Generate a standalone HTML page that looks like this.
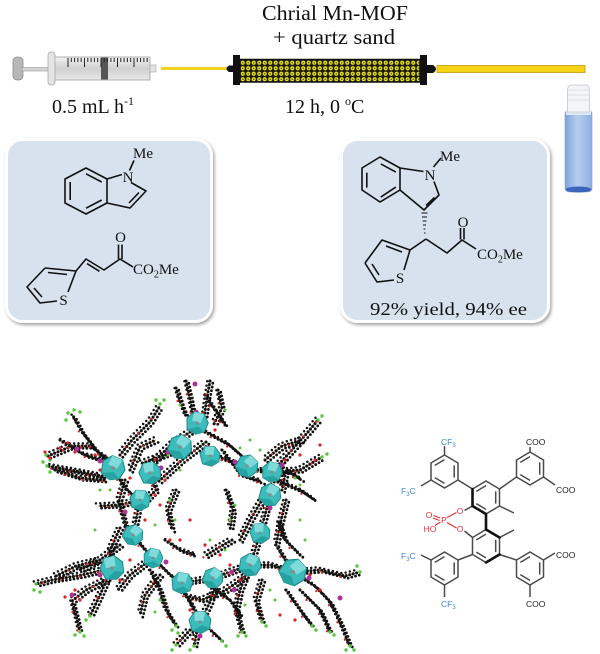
<!DOCTYPE html>
<html><head><meta charset="utf-8">
<style>html,body{margin:0;padding:0;background:#fff}svg{display:block}</style>
</head><body>
<svg width="600" height="654" viewBox="0 0 600 654" xmlns="http://www.w3.org/2000/svg" xmlns:xlink="http://www.w3.org/1999/xlink">
<defs>
  <linearGradient id="barrel" x1="0" y1="0" x2="0" y2="1">
    <stop offset="0" stop-color="#f2f2f2"/><stop offset="0.5" stop-color="#cfcfcf"/><stop offset="1" stop-color="#e8e8e8"/>
  </linearGradient>
  <linearGradient id="vialg" x1="0" y1="0" x2="1" y2="0">
    <stop offset="0" stop-color="#7ea3dc"/><stop offset="0.45" stop-color="#b7cdee"/><stop offset="1" stop-color="#8caee2"/>
  </linearGradient>
  <pattern id="sand" width="5.5" height="5.5" patternUnits="userSpaceOnUse" x="240" y="60">
    <rect width="5.5" height="5.5" fill="#1c1c08"/>
    <circle cx="2.75" cy="2.75" r="2.1" fill="#e4dc1e"/>
    <circle cx="2.75" cy="2.75" r="0.8" fill="#5a5a12"/>
  </pattern>
  <filter id="sh" x="-10%" y="-10%" width="125%" height="125%">
    <feDropShadow dx="1.5" dy="2" stdDeviation="1.5" flood-color="#666" flood-opacity="0.6"/>
  </filter>
  <g id="ring">
    <path d="M0,-16.5 L13.5,-8.5 L13.5,8.5 L0,16.5 L-13.5,8.5 L-13.5,-8.5 Z" fill="none"/>
    <path d="M-9.7,-6.1 L0,-11.9 M9.7,-6.1 L9.7,6.1 M0,11.9 L-9.7,6.1" fill="none"/>
  </g>
  <g id="pv">
    <polygon points="-8,-4 -2,-9 6,-7 9,0 6,7 -1,9 -8,5" fill="#3dbcbc" stroke="#1d8a8a" stroke-width="0.8"/>
    <polygon points="-2,-9 6,-7 3,0 -4,-2" fill="#80dada"/>
    <polygon points="-8,5 -1,9 6,7 1,3" fill="#27a2a2"/>
    <circle r="1.3" fill="#8a8a8a"/>
  </g>
  <g id="st">
    <path d="M186,381 L190,398 L194,418"/>
    <path d="M210,381 L207,398 L204,418"/>
    <path d="M176,388 L181,404 L186,416"/>
    <path d="M218,390 L222,408 L214,424"/>
    <path d="M196,428 L172,444 L150,465"/>
    <path d="M186,446 L162,456 L140,464"/>
    <path d="M206,442 L182,460 L158,482"/>
    <path d="M212,455 L234,462 L248,470"/>
    <path d="M202,430 L228,444 L244,458"/>
    <path d="M222,450 L240,474 L262,482"/>
    <path d="M113,468 L96,450 L82,432 L72,414"/>
    <path d="M110,460 L90,446 L72,446 L48,456"/>
    <path d="M102,476 L76,471 L48,466"/>
    <path d="M120,455 L132,440 L150,422 L160,406"/>
    <path d="M130,470 L140,447 L156,440"/>
    <path d="M140,500 L120,505 L98,506"/>
    <path d="M113,468 L125,488 L138,500"/>
    <path d="M140,500 L136,520 L133,535"/>
    <path d="M125,480 L119,500 L124,520 L130,540"/>
    <path d="M150,473 L156,490 L146,500"/>
    <path d="M133,535 L145,550 L153,558"/>
    <path d="M120,528 L110,550 L112,568"/>
    <path d="M112,568 L82,575 L52,580 L36,584"/>
    <path d="M106,580 L86,590 L72,601 L76,616 L80,632"/>
    <path d="M100,560 L76,566 L56,576"/>
    <path d="M112,568 L100,595 L90,616"/>
    <path d="M153,558 L170,575 L182,583"/>
    <path d="M150,570 L160,590 L166,610 L176,626"/>
    <path d="M182,583 L213,578 L250,565"/>
    <path d="M186,596 L202,600 L226,590 L246,576"/>
    <path d="M200,622 L190,602 L182,590"/>
    <path d="M200,622 L210,602 L215,586"/>
    <path d="M198,626 L194,646"/>
    <path d="M206,626 L222,641"/>
    <path d="M190,630 L176,645"/>
    <path d="M247,468 L272,472 L300,470 L322,457"/>
    <path d="M272,472 L290,452 L308,432 L318,420"/>
    <path d="M265,460 L282,446 L302,440"/>
    <path d="M270,495 L272,474"/>
    <path d="M282,490 L286,470 L302,480"/>
    <path d="M270,495 L265,515 L260,533"/>
    <path d="M286,500 L281,520 L276,545"/>
    <path d="M260,533 L255,550 L250,565"/>
    <path d="M276,545 L293,572"/>
    <path d="M293,572 L315,586 L330,602 L340,622 L350,646"/>
    <path d="M300,590 L320,610 L330,632"/>
    <path d="M293,572 L320,570 L345,576 L360,572"/>
    <path d="M286,590 L300,610 L312,626"/>
    <path d="M250,565 L240,590 L236,610 L242,632"/>
    <path d="M262,580 L256,600 L262,622"/>
    <path d="M176,490 L168,510 L172,530"/>
    <path d="M226,490 L233,510 L230,530"/>
    <path d="M250,565 L272,565 L293,572"/>
    <path d="M232,540 L218,548 L205,556"/>
    <path d="M165,540 L180,550 L195,555"/>
    <path d="M60,440 L85,455 L110,462"/>
    <path d="M55,470 L80,478 L105,480"/>
    <path d="M120,545 L100,560 L80,570"/>
    <path d="M150,560 L130,575 L118,590"/>
    <path d="M240,540 L250,520 L262,500"/>
    <path d="M275,480 L300,490 L315,500"/>
    <path d="M300,555 L285,540 L278,520"/>
    <path d="M215,590 L230,600 L240,615"/>
    <path d="M160,575 L145,595 L140,615"/>
    <path d="M205,395 L215,410 L225,425"/>
  </g>
</defs>

<rect width="600" height="654" fill="#fff"/>

<!-- Top texts -->
<g font-family="'Liberation Serif', serif" fill="#111">
  <text x="262" y="20" font-size="21" textLength="146" lengthAdjust="spacingAndGlyphs">Chrial Mn-MOF</text>
  <text x="273" y="44" font-size="21" textLength="122" lengthAdjust="spacingAndGlyphs">+ quartz sand</text>
  <text x="52" y="113" font-size="20">0.5 mL h<tspan font-size="12" dy="-8">-1</tspan></text>
  <text x="285" y="113" font-size="20">12 h, 0 <tspan font-size="12" dy="-8">o</tspan><tspan dy="8">C</tspan></text>
</g>

<!-- Syringe -->
<g>
  <rect x="13" y="57" width="10" height="23" rx="4" fill="#b8b8b8" stroke="#8a8a8a" stroke-width="0.8"/>
  <rect x="22" y="67.5" width="84" height="3.5" fill="#d4d4d4" stroke="#9a9a9a" stroke-width="0.6"/>
  <rect x="54" y="57" width="96" height="23" fill="url(#barrel)" stroke="#a0a0a0" stroke-width="0.8"/>
  <rect x="48" y="52" width="7" height="33" rx="3" fill="#e4e4e4" stroke="#a8a8a8" stroke-width="0.8"/>
  <rect x="101" y="57.5" width="7" height="22" fill="#555"/>
  <rect x="150" y="65" width="6" height="7" fill="#e2e2e2" stroke="#a8a8a8" stroke-width="0.6"/>
  <path d="M68,58v9 M71.3,58v4 M74.6,58v4 M77.9,58v4 M81.2,58v4 M84.5,58v9 M87.8,58v4 M91.1,58v4 M94.4,58v4 M97.7,58v4 M101,58v9 M104.3,58v4 M107.6,58v4 M110.9,58v4 M114.2,58v4 M117.5,58v9 M120.8,58v4 M124.1,58v4 M127.4,58v4 M130.7,58v4 M134,58v9 M137.3,58v4 M140.6,58v4 M143.9,58v4 M147.2,58v4" stroke="#222" stroke-width="1"/>
</g>

<!-- Tubes and column -->
<line x1="161" y1="68.5" x2="227" y2="68.5" stroke="#f2d21a" stroke-width="3"/>
<path d="M234,65.5 L229,65.5 Q224,68.8 229,72 L234,72 Z" fill="#111"/>
<rect x="233" y="55" width="7" height="30" fill="#111"/>
<rect x="240" y="59.5" width="180" height="22.5" fill="url(#sand)" stroke="#111" stroke-width="1.5"/>
<rect x="420" y="55" width="7" height="30" fill="#111"/>
<path d="M427,65 L433,65 Q439,69 433,73 L427,73 Z" fill="#111"/>
<rect x="437" y="65.5" width="148" height="7" fill="#f5d316" stroke="#c49c0c" stroke-width="0.8"/>

<!-- Vial -->
<g>
  <rect x="565" y="110" width="27" height="82" rx="4" fill="url(#vialg)" stroke="#7e9fd4" stroke-width="0.6"/>
  <rect x="566" y="110" width="25" height="5" fill="#dfe8f5"/>
  <ellipse cx="578.5" cy="189.5" rx="13" ry="3" fill="#3d66bb"/>
  <path d="M567.5,112 L567.5,92 Q567.5,85 571,85 L586,85 Q589.5,85 589.5,92 L589.5,112 Z" fill="#f3f5f8" stroke="#c2c7cd" stroke-width="0.8"/>
  <path d="M568,90 H589 M568,95 H589 M568,100 H589" stroke="#d4d8de" stroke-width="0.8"/>
</g>

<!-- Boxes -->
<rect x="6.5" y="139.5" width="205" height="182" rx="16" fill="#d7e2ee" stroke="#fff" stroke-width="3" filter="url(#sh)"/>
<rect x="341.5" y="139.5" width="207" height="182" rx="16" fill="#d7e2ee" stroke="#fff" stroke-width="3" filter="url(#sh)"/>

<!-- Left box molecules -->
<g stroke="#111" stroke-width="1.6" fill="none" stroke-linejoin="round">
  <path d="M86,168 L107,179 L107,203 L86,214 L65,203 L65,179 Z"/>
  <path d="M70.2,182 L70.2,200 M86,173.8 L101.7,182 M101.7,200 L86,208.2"/>
  <path d="M107,179 L122,174.5"/>
  <path d="M131,182.5 L146,191 L130,208 L107,203"/>
  <path d="M139,192.5 L129,203"/>
  <path d="M129.5,170.5 L134,160.5"/>
  <path d="M45,268 L76,271 L68,292 M57,301 L40,303 L27,287 L45,268"/>
  <path d="M34,288 L42,297 M48,272.5 L67,274.5"/>
  <path d="M76,271 L86,259 L104,270 L120,259 L133,267"/>
  <path d="M87,263.6 L99.5,271.3"/>
  <path d="M118.5,259 L118.5,244.5 M122,259 L122,244.5"/>
</g>
<g font-family="'Liberation Serif', serif" fill="#111" font-size="15">
  <text x="128" y="182" text-anchor="middle">N</text>
  <text x="133" y="158">Me</text>
  <text x="63.5" y="305" text-anchor="middle">S</text>
  <text x="120.5" y="242" text-anchor="middle">O</text>
  <text x="133" y="274">CO<tspan font-size="10" dy="3.5">2</tspan><tspan dy="-3.5">Me</tspan></text>
</g>

<!-- Right box molecule -->
<g stroke="#111" stroke-width="1.6" fill="none" stroke-linejoin="round">
  <path d="M380,157 L400,168 L400,190 L380,202 L362,190 L362,168 Z"/>
  <path d="M366.8,172.6 L366.8,187.6 M380.8,163.9 L395.8,172.1 M395.8,187.1 L380.8,197.1"/>
  <path d="M400,168 L423.5,171.5"/>
  <path d="M434,181.5 L439,195 L424,210 L400,190"/>
  <path d="M434.5,197.5 L426,205.5"/>
  <path d="M433.5,167 L441,158"/>
  <path d="M365,263 L382,240 L410,250 L404,270 M394,280 L377,282 L365,263"/>
  <path d="M386,246 L402,252 M372,264 L379,275"/>
  <path d="M426,239 L410,250"/>
  <path d="M426,239 L447,253 L462,240 L476,249"/>
  <path d="M460.5,239.5 L460.5,228 M464,239.5 L464,228"/>
</g>
<g stroke="#111" stroke-width="1.1">
  <path d="M421.5,213 H427.5 M422,217 H427 M422.5,221 H426.5 M423,225 H426 M423.5,229 H425.5 M424,233 H425.5"/>
</g>
<g font-family="'Liberation Serif', serif" fill="#111" font-size="15">
  <text x="430" y="180" text-anchor="middle">N</text>
  <text x="440" y="161">Me</text>
  <text x="400" y="283" text-anchor="middle">S</text>
  <text x="463" y="227" text-anchor="middle">O</text>
  <text x="477" y="259">CO<tspan font-size="10" dy="3.5">2</tspan><tspan dy="-3.5">Me</tspan></text>
  <text x="370" y="315" font-size="18" textLength="157" lengthAdjust="spacingAndGlyphs">92% yield,  94% ee</text>
</g>

<!-- Ligand -->
<g stroke="#4a4a4a" stroke-width="1.5" fill="none">
  <use href="#ring" xlink:href="#ring" transform="translate(444.5,471.5)"/>
  <use href="#ring" xlink:href="#ring" transform="translate(486,497.5)"/>
  <use href="#ring" xlink:href="#ring" transform="translate(486,546)"/>
  <use href="#ring" xlink:href="#ring" transform="translate(530,468.5)"/>
  <use href="#ring" xlink:href="#ring" transform="translate(444.5,568.5)"/>
  <use href="#ring" xlink:href="#ring" transform="translate(530,568.5)"/>
  <path d="M444.5,455 V446 M431,480 L421,486 M458,480 L472.5,489 M499.5,489 L516.5,477 M530,452 V447 M543.5,477 L555,485 M499.5,506 L514,513 M472.5,506 L464.5,510.5 M499.5,537.5 L514,530 M472.5,537.5 L464.5,531 M472.5,554.5 L458,560 M499.5,554.5 L516.5,560 M431,560 L421,555 M444.5,585 V597 M543.5,560 L555,553 M530,585 V597"/>
</g>
<g stroke="#111" stroke-width="2.6" fill="none" stroke-linecap="round">
  <path d="M472.5,489 L472.5,506 L486,514 L486,529.5 L499.5,537.5"/>
  <path d="M499.5,554.5 L486,562.5"/>
</g>
<g stroke="#e03038" stroke-width="1.1" fill="none">
  <path d="M456.5,512.5 L447,517.5 M456.5,528 L447,522.5 M440.5,522 L435,525.5 M433.5,515.5 L440,518 M433,518 L439.5,520.5"/>
</g>
<g font-family="'Liberation Sans', sans-serif" font-size="8.5">
  <g fill="#3a8ad6">
    <text x="441" y="445">CF<tspan font-size="6" dy="2">3</tspan></text>
    <text x="401" y="494">F<tspan font-size="6" dy="2">3</tspan><tspan dy="-2">C</tspan></text>
    <text x="401" y="559">F<tspan font-size="6" dy="2">3</tspan><tspan dy="-2">C</tspan></text>
    <text x="441" y="607">CF<tspan font-size="6" dy="2">3</tspan></text>
  </g>
  <g fill="#222">
    <text x="526" y="445">COO</text>
    <text x="556" y="493">COO</text>
    <text x="556" y="558">COO</text>
    <text x="526" y="607">COO</text>
  </g>
  <g fill="#e03038">
    <text x="460" y="514" text-anchor="middle">O</text>
    <text x="460" y="532" text-anchor="middle">O</text>
    <text x="444" y="523" text-anchor="middle">P</text>
    <text x="429" y="518" text-anchor="middle">O</text>
    <text x="430" y="532" text-anchor="middle">HO</text>
  </g>
</g>

<!-- MOF structure -->
<use href="#st" xlink:href="#st" fill="none" stroke="#e6a860" stroke-width="1"/>
<use href="#st" xlink:href="#st" fill="none" stroke="#111" stroke-width="3.1" stroke-linecap="round" stroke-dasharray="0 3.6"/>
<use href="#st" xlink:href="#st" transform="translate(2.8,2.2)" fill="none" stroke="#111" stroke-width="2.8" stroke-linecap="round" stroke-dasharray="0 3.8"/>
<use href="#st" xlink:href="#st" transform="translate(-2.2,-2.6)" fill="none" stroke="#151515" stroke-width="2.5" stroke-linecap="round" stroke-dasharray="0 4.4" stroke-dashoffset="1.5"/>
<use href="#st" xlink:href="#st" transform="translate(-2,1.5)" fill="none" stroke="#d42a2a" stroke-width="2.3" stroke-linecap="round" stroke-dasharray="0 19" stroke-dashoffset="7"/>

<g fill="#58c83a">
  <circle cx="68" cy="413" r="1.7"/><circle cx="74" cy="410" r="1.7"/><circle cx="80" cy="412" r="1.7"/><circle cx="66" cy="420" r="1.7"/>
  <circle cx="46" cy="455" r="1.7"/><circle cx="50" cy="460" r="1.7"/><circle cx="43" cy="462" r="1.7"/>
  <circle cx="47" cy="466" r="1.7"/><circle cx="50" cy="472" r="1.7"/>
  <circle cx="160" cy="404" r="1.7"/><circle cx="156" cy="400" r="1.7"/><circle cx="164" cy="400" r="1.7"/>
  <circle cx="318" cy="420" r="1.7"/><circle cx="322" cy="416" r="1.7"/>
  <circle cx="322" cy="457" r="1.7"/><circle cx="327" cy="454" r="1.7"/>
  <circle cx="36" cy="584" r="1.7"/><circle cx="34" cy="590" r="1.7"/><circle cx="40" cy="592" r="1.7"/>
  <circle cx="80" cy="632" r="1.7"/><circle cx="75" cy="635" r="1.7"/><circle cx="84" cy="636" r="1.7"/>
  <circle cx="90" cy="616" r="1.7"/><circle cx="86" cy="620" r="1.7"/>
  <circle cx="176" cy="626" r="1.7"/><circle cx="172" cy="630" r="1.7"/><circle cx="178" cy="633" r="1.7"/>
  <circle cx="194" cy="646" r="1.7"/><circle cx="190" cy="650" r="1.7"/>
  <circle cx="222" cy="641" r="1.7"/><circle cx="226" cy="646" r="1.7"/>
  <circle cx="176" cy="645" r="1.7"/><circle cx="172" cy="650" r="1.7"/>
  <circle cx="242" cy="632" r="1.7"/><circle cx="246" cy="636" r="1.7"/><circle cx="238" cy="636" r="1.7"/>
  <circle cx="262" cy="622" r="1.7"/><circle cx="266" cy="626" r="1.7"/>
  <circle cx="312" cy="626" r="1.7"/><circle cx="316" cy="630" r="1.7"/>
  <circle cx="330" cy="632" r="1.7"/><circle cx="334" cy="635" r="1.7"/>
  <circle cx="350" cy="646" r="1.7"/><circle cx="354" cy="650" r="1.7"/><circle cx="346" cy="650" r="1.7"/>
  <circle cx="360" cy="572" r="1.7"/><circle cx="357" cy="566" r="1.7"/>
  <circle cx="168" cy="455" r="1.5"/><circle cx="180" cy="470" r="1.5"/><circle cx="240" cy="448" r="1.5"/><circle cx="250" cy="440" r="1.5"/>
  <circle cx="260" cy="450" r="1.5"/><circle cx="295" cy="478" r="1.5"/><circle cx="300" cy="485" r="1.5"/><circle cx="230" cy="520" r="1.5"/>
  <circle cx="235" cy="505" r="1.5"/><circle cx="175" cy="520" r="1.5"/><circle cx="170" cy="500" r="1.5"/><circle cx="155" cy="525" r="1.5"/>
  <circle cx="210" cy="540" r="1.5"/><circle cx="225" cy="550" r="1.5"/><circle cx="270" cy="590" r="1.5"/><circle cx="275" cy="600" r="1.5"/>
  <circle cx="245" cy="605" r="1.5"/><circle cx="160" cy="600" r="1.5"/><circle cx="155" cy="612" r="1.5"/><circle cx="110" cy="490" r="1.5"/>
  <circle cx="100" cy="490" r="1.5"/><circle cx="95" cy="530" r="1.5"/><circle cx="300" cy="520" r="1.5"/><circle cx="305" cy="540" r="1.5"/>
  <circle cx="180" cy="405" r="1.5"/><circle cx="225" cy="410" r="1.5"/>
</g>
<g fill="#d8242a">
  <circle cx="45" cy="452" r="1.6"/><circle cx="50" cy="458" r="1.6"/><circle cx="68" cy="443" r="1.6"/><circle cx="75" cy="452" r="1.6"/>
  <circle cx="60" cy="448" r="1.6"/><circle cx="95" cy="455" r="1.6"/><circle cx="100" cy="470" r="1.6"/><circle cx="120" cy="465" r="1.6"/>
  <circle cx="130" cy="478" r="1.6"/><circle cx="165" cy="480" r="1.6"/><circle cx="170" cy="540" r="1.6"/><circle cx="180" cy="540" r="1.6"/>
  <circle cx="205" cy="545" r="1.6"/><circle cx="220" cy="555" r="1.6"/><circle cx="230" cy="565" r="1.6"/><circle cx="240" cy="580" r="1.6"/>
  <circle cx="285" cy="580" r="1.6"/><circle cx="300" cy="565" r="1.6"/><circle cx="310" cy="575" r="1.6"/><circle cx="320" cy="590" r="1.6"/>
  <circle cx="285" cy="460" r="1.6"/><circle cx="300" cy="455" r="1.6"/><circle cx="315" cy="460" r="1.6"/><circle cx="320" cy="445" r="1.6"/>
  <circle cx="215" cy="430" r="1.6"/><circle cx="208" cy="447" r="1.6"/><circle cx="160" cy="505" r="1.6"/><circle cx="190" cy="520" r="1.6"/>
  <circle cx="75" cy="590" r="1.6"/><circle cx="65" cy="597" r="1.6"/><circle cx="80" cy="600" r="1.6"/><circle cx="120" cy="580" r="1.6"/>
  <circle cx="130" cy="560" r="1.6"/><circle cx="180" cy="590" r="1.6"/><circle cx="190" cy="610" r="1.6"/><circle cx="280" cy="615" r="1.6"/>
  <circle cx="295" cy="620" r="1.6"/><circle cx="110" cy="575" r="1.6"/><circle cx="155" cy="495" r="1.6"/><circle cx="145" cy="520" r="1.6"/>
</g>
<g fill="#b0309a">
  <circle cx="195" cy="384" r="2.5"/><circle cx="196" cy="412" r="2.5"/><circle cx="77" cy="449" r="2.5"/><circle cx="100" cy="461" r="2.5"/>
  <circle cx="168" cy="452" r="2.5"/><circle cx="217" cy="460" r="2.5"/><circle cx="161" cy="468" r="2.5"/><circle cx="235" cy="462" r="2.5"/>
  <circle cx="282" cy="465" r="2.5"/><circle cx="270" cy="508" r="2.5"/><circle cx="125" cy="512" r="2.5"/><circle cx="166" cy="562" r="2.5"/>
  <circle cx="100" cy="575" r="2.5"/><circle cx="232" cy="572" r="2.5"/><circle cx="234" cy="590" r="2.5"/><circle cx="72" cy="595" r="2.5"/>
  <circle cx="340" cy="598" r="2.5"/><circle cx="309" cy="578" r="2.5"/><circle cx="200" cy="636" r="2.5"/>
</g>
<g>
  <use href="#pv" xlink:href="#pv" transform="translate(197,423) scale(1.25)"/>
  <use href="#pv" xlink:href="#pv" transform="translate(180,447) scale(1.35) rotate(20)"/>
  <use href="#pv" xlink:href="#pv" transform="translate(210,456) scale(1.15) rotate(-15)"/>
  <use href="#pv" xlink:href="#pv" transform="translate(113,468) scale(1.35) rotate(10)"/>
  <use href="#pv" xlink:href="#pv" transform="translate(150,473) scale(1.25) rotate(-25)"/>
  <use href="#pv" xlink:href="#pv" transform="translate(247,466) scale(1.25) rotate(30)"/>
  <use href="#pv" xlink:href="#pv" transform="translate(272,472) scale(1.15)"/>
  <use href="#pv" xlink:href="#pv" transform="translate(270,495) scale(1.25) rotate(15)"/>
  <use href="#pv" xlink:href="#pv" transform="translate(140,500) scale(1.15) rotate(-10)"/>
  <use href="#pv" xlink:href="#pv" transform="translate(133,535) scale(1.15) rotate(25)"/>
  <use href="#pv" xlink:href="#pv" transform="translate(260,533) scale(1.15) rotate(-20)"/>
  <use href="#pv" xlink:href="#pv" transform="translate(153,558) scale(1.1)"/>
  <use href="#pv" xlink:href="#pv" transform="translate(112,568) scale(1.35) rotate(-30)"/>
  <use href="#pv" xlink:href="#pv" transform="translate(250,565) scale(1.25) rotate(10)"/>
  <use href="#pv" xlink:href="#pv" transform="translate(293,572) scale(1.5) rotate(35)"/>
  <use href="#pv" xlink:href="#pv" transform="translate(182,583) scale(1.2) rotate(-5)"/>
  <use href="#pv" xlink:href="#pv" transform="translate(213,578) scale(1.15) rotate(20)"/>
  <use href="#pv" xlink:href="#pv" transform="translate(200,622) scale(1.25) rotate(-15)"/>
</g>
</svg>
</body></html>
